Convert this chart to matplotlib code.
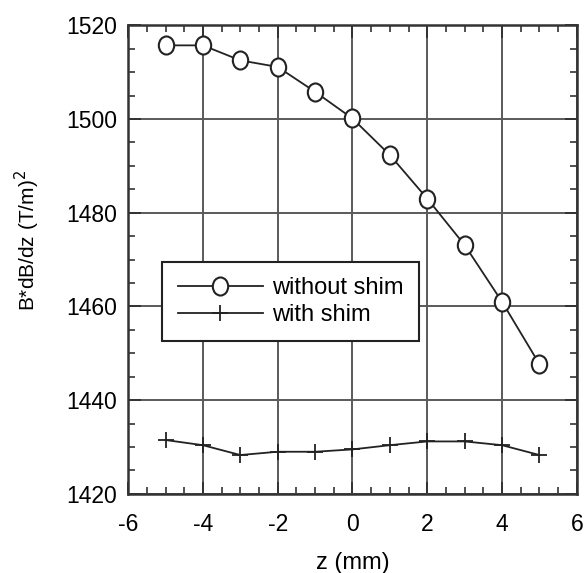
import matplotlib
matplotlib.use("Agg")
import matplotlib.pyplot as plt
from matplotlib.path import Path
from matplotlib.transforms import Affine2D
from matplotlib.ticker import MultipleLocator

plt.rcParams['font.family'] = ['Liberation Sans', 'DejaVu Sans']
plt.rcParams['axes.unicode_minus'] = False

z = [-5, -4, -3, -2, -1, 0, 1, 2, 3, 4, 5]
without_shim = [1515.7, 1515.7, 1512.5, 1511.1, 1505.8, 1500.1, 1492.3, 1483.0, 1473.1, 1461.0, 1447.7]
with_shim = [1431.5, 1430.4, 1428.3, 1429.0, 1429.0, 1429.5, 1430.4, 1431.2, 1431.2, 1430.4, 1428.3]

# slightly tall open circle, as in the scan
ellipse = Path.unit_circle().transformed(Affine2D().scale(0.85, 1.0))

fig, ax = plt.subplots(figsize=(5.85, 5.73), dpi=100)
fig.subplots_adjust(left=0.219, right=0.986, top=0.956, bottom=0.138)

ax.plot(z, without_shim, color="#222222", lw=1.3, marker=ellipse, ms=13,
        mfc="white", mec="#222222", mew=1.5, label="without shim", zorder=3)
ax.plot(z, with_shim, color="#222222", lw=1.3, marker="+", ms=11,
        mew=1.3, label="with shim", zorder=3)

ax.set_xlim(-6, 6)
ax.set_ylim(1420, 1520)
ax.xaxis.set_major_locator(MultipleLocator(2))
ax.xaxis.set_minor_locator(MultipleLocator(0.5))
ax.yaxis.set_major_locator(MultipleLocator(20))
ax.yaxis.set_minor_locator(MultipleLocator(5))

ax.grid(True, which="major", color="#5a5a5a", lw=1.4)
ax.tick_params(which="both", direction="in", top=True, right=True,
               color="#333333", labelsize=16.5)
ax.tick_params(axis="x", pad=14)
ax.tick_params(axis="y", pad=8)
ax.tick_params(which="major", length=9, width=1.4)
ax.tick_params(which="minor", length=5, width=1.2)
for s in ax.spines.values():
    s.set_linewidth(1.8)
    s.set_color("#333333")

ax.set_xlabel("z (mm)", fontsize=17)
ax.set_ylabel("B*dB/dz (T/m)$^2$", fontsize=15)
ax.xaxis.set_label_coords(0.5, -0.147)
ax.yaxis.set_label_coords(-0.225, 0.54)
ax.xaxis.label.set_va("center")
ax.yaxis.label.set_va("center")

leg = ax.legend(loc="upper left", bbox_to_anchor=(0.076, 0.495),
                borderaxespad=0, fontsize=17, frameon=True, fancybox=False,
                edgecolor="#222222", framealpha=1, borderpad=0.65,
                handlelength=3.6, handletextpad=0.4, labelspacing=0.2)
leg.get_frame().set_linewidth(1.5)

fig.savefig("out.png", dpi=100)
